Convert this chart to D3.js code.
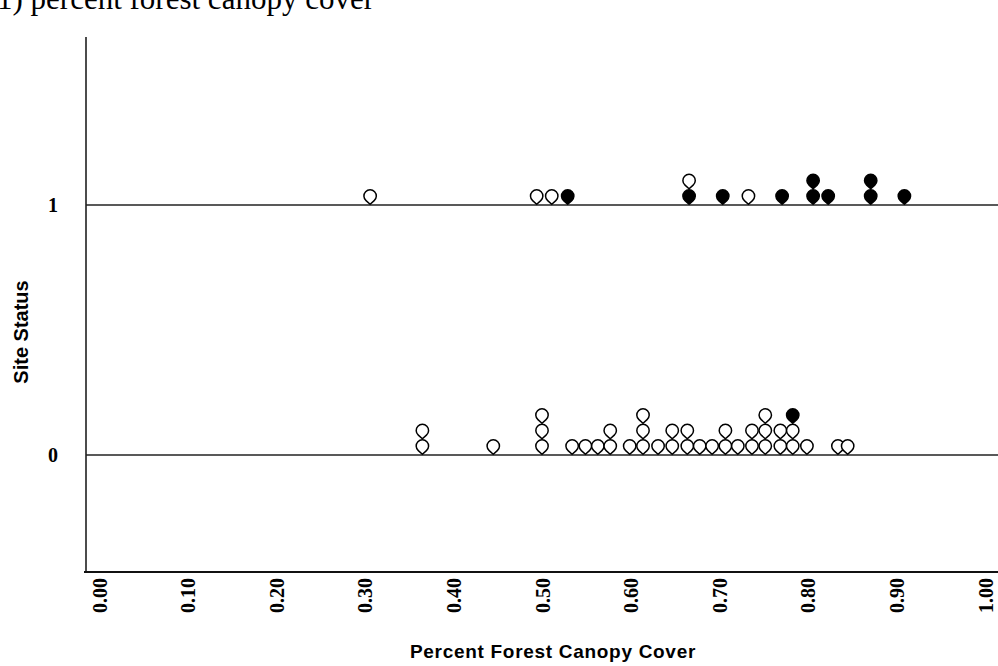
<!DOCTYPE html>
<html>
<head>
<meta charset="utf-8">
<script src="https://cdn.jsdelivr.net/npm/d3@7"></script>
<style>
  html, body { margin: 0; padding: 0; background: #fff; }
  svg { display: block; }
</style>
</head>
<body>
<svg id="chart" width="998" height="666"></svg>
<script>
// ---- data ----
const chartTitle = "1) percent forest canopy cover";
const xTitle = "Percent Forest Canopy Cover";
const yTitle = "Site Status";
const xTickValues = [0, 0.1, 0.2, 0.3, 0.4, 0.5, 0.6, 0.7, 0.8, 0.9, 1.0];
const yTickValues = [0, 1];

// Site status 1 (present): canopy cover values, and whether the marker is filled
const presentValues = [0.306, 0.494, 0.511, 0.529, 0.666, 0.666, 0.704, 0.733, 0.771, 0.806, 0.806, 0.823, 0.871, 0.871, 0.909];
const presentFilled = [0, 0, 0, 1, 1, 0, 1, 0, 1, 1, 1, 1, 1, 1, 1];

// Site status 0 (absent)
const absentValues = [0.365, 0.365, 0.445, 0.5, 0.5, 0.5, 0.534, 0.549, 0.563, 0.577, 0.577, 0.599,
  0.614, 0.614, 0.614, 0.631, 0.647, 0.647, 0.664, 0.664, 0.678, 0.692, 0.707, 0.707, 0.721,
  0.737, 0.737, 0.752, 0.752, 0.752, 0.769, 0.769, 0.783, 0.783, 0.783, 0.799, 0.834, 0.845];
const absentFilled = [0, 0, 0, 0, 0, 0, 0, 0, 0, 0, 0, 0, 0, 0, 0, 0, 0, 0, 0, 0, 0, 0, 0, 0, 0,
  0, 0, 0, 0, 0, 0, 0, 0, 0, 1, 0, 0, 0];

// ---- build points with stack level ----
function buildPoints(values, filled, status) {
  const counts = new Map();
  return values.map((v, i) => {
    const key = v.toFixed(3);
    const level = counts.get(key) || 0;
    counts.set(key, level + 1);
    return { value: v, filled: !!filled[i], status, level };
  });
}
const points = buildPoints(presentValues, presentFilled, 1)
  .concat(buildPoints(absentValues, absentFilled, 0));

// ---- layout ----
const svg = d3.select("#chart");
const x = d3.scaleLinear().domain([0, 1]).range([99, 985]);
const y = d3.scaleLinear().domain([-0.468, 1.672]).range([572, 37]);
const axisX = 86;
const rightEdge = 998;

const serif = "'Liberation Serif', 'Times New Roman', serif";
const sans = "'Liberation Sans', Arial, sans-serif";

// title
svg.append("text")
  .attr("x", -3).attr("y", 9)
  .attr("font-family", serif).attr("font-size", 31)
  .attr("fill", "#000")
  .text(chartTitle);

// y-axis line
svg.append("line")
  .attr("x1", axisX).attr("x2", axisX)
  .attr("y1", y.range()[1]).attr("y2", y.range()[0])
  .attr("stroke", "#111").attr("stroke-width", 1.5);

// x-axis line
svg.append("line")
  .attr("x1", axisX - 2).attr("x2", rightEdge)
  .attr("y1", y.range()[0]).attr("y2", y.range()[0])
  .attr("stroke", "#111").attr("stroke-width", 2);

// horizontal reference lines at status 0 and 1
svg.selectAll("line.status")
  .data(yTickValues)
  .enter().append("line")
  .attr("class", "status")
  .attr("x1", axisX).attr("x2", rightEdge)
  .attr("y1", d => y(d)).attr("y2", d => y(d))
  .attr("stroke", "#222").attr("stroke-width", 1.6);

// y tick labels
svg.selectAll("text.ytick")
  .data(yTickValues)
  .enter().append("text")
  .attr("class", "ytick")
  .attr("x", 58).attr("y", d => y(d))
  .attr("dy", "0.35em")
  .attr("text-anchor", "end")
  .attr("font-family", serif).attr("font-weight", "bold").attr("font-size", 20)
  .text(d => d3.format("d")(d));

// x tick labels (rotated)
const xAxis = d3.axisBottom(x).tickValues(xTickValues).tickSize(0).tickFormat(d3.format(".2f"));
const gx = svg.append("g")
  .attr("transform", `translate(0,${y.range()[0] + 6})`)
  .call(xAxis);
gx.select(".domain").remove();
gx.selectAll("text")
  .attr("font-family", serif).attr("font-weight", "bold").attr("font-size", 20)
  .attr("fill", "#000")
  .attr("text-anchor", "end")
  .attr("transform", "rotate(-90)")
  .attr("x", 0).attr("y", 0)
  .attr("dx", 0).attr("dy", "0.35em");

// axis titles
svg.append("text")
  .attr("x", 553).attr("y", 658)
  .attr("text-anchor", "middle")
  .attr("font-family", sans).attr("font-weight", "bold").attr("font-size", 19)
  .attr("letter-spacing", 0.7)
  .text(xTitle);

svg.append("text")
  .attr("transform", `translate(28,${y(0.5) + 2}) rotate(-90)`)
  .attr("text-anchor", "middle")
  .attr("font-family", sans).attr("font-weight", "bold").attr("font-size", 20)
  .text(yTitle);

// markers: circle with a pointed bottom
const r = 6.2;
const d = 8.2;
const ct = r / d;
const st = Math.sqrt(1 - ct * ct);
const markerPath = `M${-r * st},${r * ct} A${r},${r} 0 1 1 ${r * st},${r * ct} L0,${d} Z`;
const baseOffset = 9;
const step = 15.5;

svg.selectAll("path.pt")
  .data(points)
  .enter().append("path")
  .attr("class", "pt")
  .attr("d", markerPath)
  .attr("transform", p => `translate(${x(p.value)},${y(p.status) - baseOffset - step * p.level})`)
  .attr("fill", p => p.filled ? "#000" : "#fff")
  .attr("stroke", "#000")
  .attr("stroke-width", 1.5);
</script>
</body>
</html>
